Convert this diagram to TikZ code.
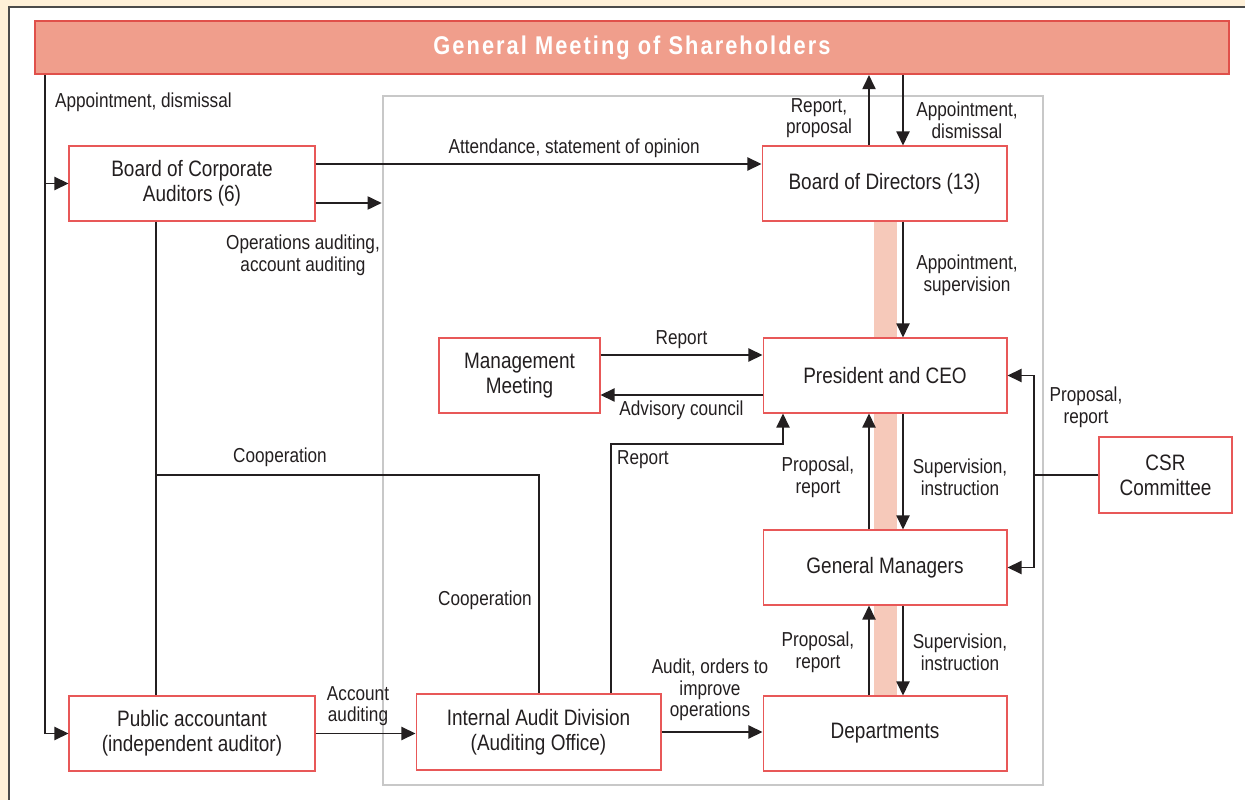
\documentclass[tikz,border=0pt]{standalone}
\usepackage{fontspec}
\setmainfont{Liberation Sans}[FakeStretch=0.85]
\newfontfamily\headfont{Liberation Sans}[FakeStretch=0.85, LetterSpace=8]
\usetikzlibrary{arrows.meta}

\definecolor{cream}{HTML}{FEF0D8}
\definecolor{ink}{HTML}{231F20}
\definecolor{boxred}{HTML}{E85858}
\definecolor{headfill}{HTML}{F09E8C}
\definecolor{headline}{HTML}{E0504A}
\definecolor{bandpink}{HTML}{F6C9BA}
\definecolor{framegrey}{HTML}{C8C8C8}
\definecolor{panelgrey}{HTML}{4A4A4A}

\tikzset{
  unit/.style={draw=boxred, fill=white, line width=.6pt, inner sep=0pt, align=center,
    text=ink, font=\fontsize{12.7}{14.2}\selectfont},
  headbar/.style={draw=headline, fill=headfill, line width=1.2pt, text=white,
    font=\headfont\bfseries\fontsize{14.6}{16}\selectfont},
  lbl/.style={inner sep=1pt, align=center, text=ink, font=\fontsize{11.5}{12.3}\selectfont},
  arr/.style={draw=ink, line width=.85pt, -{Triangle[length=8pt,width=7.5pt]}},
  wire/.style={draw=ink, line width=.85pt},
}

\begin{document}
\begin{tikzpicture}[x=.02cm, y=-.02cm]
  \useasboundingbox[fill=cream] (0,0) rectangle (1245,800);
  \fill[white] (9,7) rectangle (1245,800);
  \draw[panelgrey, line width=1.2pt] (9,800) -- (9,7) -- (1245,7);

  % grey frame round the executive side, pink band down the line of command
  \node[draw=framegrey, line width=1.6pt, minimum width=13.2cm, minimum height=13.78cm] (core) at (713,440.5) {};
  \fill[bandpink] (874,221) rectangle (897,696);

  \node[headbar, minimum width=23.88cm, minimum height=1.06cm] (gms) at (632,47.5) {General Meeting of Shareholders};

  \node[unit, minimum width=4.92cm, minimum height=1.5cm] (bca) at (192,183.5) {Board of Corporate\\Auditors (6)};
  \node[unit, minimum width=4.9cm, minimum height=1.5cm] (bod) at (884.5,183.5) {Board of Directors (13)};
  \node[unit, minimum width=3.22cm, minimum height=1.5cm] (mm) at (519.5,375.5) {Management\\Meeting};
  \node[unit, minimum width=4.88cm, minimum height=1.5cm] (ceo) at (885,375.5) {President and CEO};
  \node[unit, minimum width=2.66cm, minimum height=1.52cm] (csr) at (1165.5,475) {CSR\\Committee};
  \node[unit, minimum width=4.88cm, minimum height=1.5cm] (gm) at (885,567.5) {General Managers};
  \node[unit, minimum width=4.92cm, minimum height=1.5cm] (pa) at (192,733.5) {Public accountant\\(independent auditor)};
  \node[unit, minimum width=4.9cm, minimum height=1.52cm] (iad) at (538.5,732) {Internal Audit Division\\(Auditing Office)};
  \node[unit, minimum width=4.88cm, minimum height=1.5cm] (dep) at (885,733.5) {Departments};

  \coordinate (up) at (869,0);
  \coordinate (dn) at (903,0);
  \draw[arr] (up |- bod.north) -- (up |- gms.south);
  \draw[arr] (dn |- gms.south) -- (dn |- bod.north);
  \draw[arr] (dn |- bod.south) -- (dn |- ceo.north);
  \draw[arr] (up |- gm.north) -- (up |- ceo.south);
  \draw[arr] (dn |- ceo.south) -- (dn |- gm.north);
  \draw[arr] (up |- dep.north) -- (up |- gm.south);
  \draw[arr] (dn |- gm.south) -- (dn |- dep.north);

  % appointment line from the shareholders
  \coordinate (tap) at (45,0);
  \draw[wire] (tap |- gms.south) -- (tap |- pa.west);
  \draw[arr] (tap |- bca.west) -- (bca.west);
  \draw[arr] (tap |- pa.west) -- (pa.west);

  \draw[arr] ([yshift=.39cm]bca.east) -- ([yshift=.39cm]bca.east -| bod.west)
    node[lbl, pos=.58, above=2pt] (lAtt) {Attendance, statement of opinion};
  \draw[arr] ([yshift=-.39cm]bca.east) -- ([yshift=-.39cm]bca.east -| core.west);

  \draw[arr] ([yshift=.41cm]mm.east) -- ([yshift=.41cm]mm.east -| ceo.west)
    node[lbl, midway, above=2pt] (lRep) {Report};
  \draw[arr] ([yshift=-.39cm]ceo.west) -- ([yshift=-.39cm]ceo.west -| mm.east)
    node[lbl, midway, below=2pt] (lAdv) {Advisory council};

  \coordinate (rp) at (611,444);
  \coordinate (rq) at (783,444);
  \draw[arr] (rp |- iad.north) -- (rp) -- (rq) -- (rq |- ceo.south);

  \coordinate (bus) at (1034,475);
  \draw[wire] (csr.west) -- (bus);
  \draw[arr] (bus) |- (ceo.east);
  \draw[arr] (bus) |- (gm.east);

  % cooperation lines
  \coordinate (cp) at (156,475);
  \coordinate (cq) at (539,475);
  \draw[wire] (cp |- bca.south) -- (cp |- pa.north);
  \draw[wire] (cp) -- (cq) -- (cq |- iad.north);

  \draw[arr] (pa.east) -- (pa.east -| iad.west);
  \draw[arr] (iad.east) -- (iad.east -| dep.west);

  % labels
  \node[lbl, anchor=west] (lApd) at (53,102) {Appointment, dismissal};
  \node[lbl] (lOps) at (303,255) {Operations auditing,\\account auditing};
  \node[lbl] (lRpp) at (819,118) {Report,\\proposal};
  \node[lbl] (lAdm) at (967,120) {Appointment,\\dismissal};
  \node[lbl] (lAsv) at (967,275) {Appointment,\\supervision};
  \node[lbl] (lRpa) at (643,460) {Report};
  \node[lbl] (lPr1) at (818,477) {Proposal,\\report};
  \node[lbl] (lSi1) at (960,477) {Supervision,\\instruction};
  \node[lbl] (lPr2) at (818,652) {Proposal,\\report};
  \node[lbl] (lSi2) at (960,652) {Supervision,\\instruction};
  \node[lbl] (lPr3) at (1086,407) {Proposal,\\report};
  \node[lbl] (lCo1) at (280,457) {Cooperation};
  \node[lbl] (lCo2) at (485,600) {Cooperation};
  \node[lbl] (lAcc) at (358,706) {Account\\auditing};
  \node[lbl] (lAud) at (710,690) {Audit, orders to\\improve\\operations};
\end{tikzpicture}
\end{document}
